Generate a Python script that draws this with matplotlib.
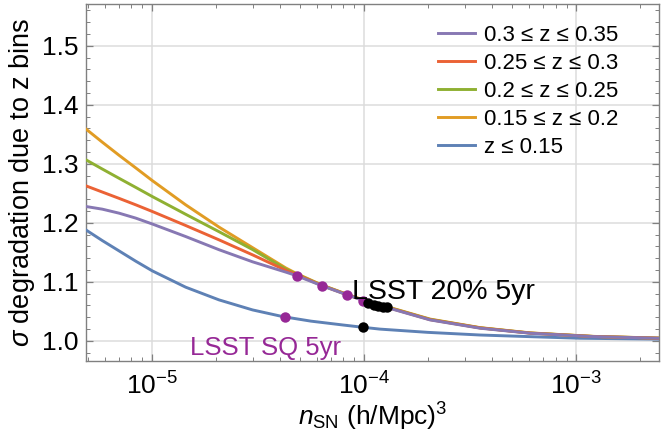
import numpy as np
import matplotlib
matplotlib.use("Agg")
import matplotlib.pyplot as plt
from matplotlib.ticker import LogLocator, MultipleLocator, NullFormatter, FormatStrFormatter

plt.rcParams['font.family'] = ['Liberation Sans', 'DejaVu Sans']
plt.rcParams['mathtext.fontset'] = 'custom'
plt.rcParams['mathtext.rm'] = 'Liberation Sans'
plt.rcParams['mathtext.it'] = 'Liberation Sans:italic'
plt.rcParams['mathtext.sf'] = 'Liberation Sans'

# ---- data (log10 of n_SN) ----
logn = [-5.31, -5.233, -5.154, -5.075, -4.997, -4.84, -4.683, -4.525, -4.368, -4.32, -4.198,
        -4.08, -4.003, -3.877, -3.689, -3.453, -3.217, -2.92, -2.61]
purple_y = [1.2277, 1.2232, 1.2164, 1.208, 1.198, 1.1768, 1.1545, 1.134, 1.1165, 1.1108, 1.0935,
            1.078, 1.0685, 1.055, 1.0356, 1.0215, 1.013, 1.0073, 1.0045]
red_y    = [1.2627, 1.2522, 1.2415, 1.2305, 1.2192, 1.1955, 1.1712, 1.1458, 1.1195, 1.1125, 1.0938,
            1.0783, 1.0688, 1.0555, 1.036, 1.022, 1.0132, 1.0075, 1.0046]
green_y  = [1.3068, 1.2912, 1.2755, 1.26, 1.2445, 1.2145, 1.185, 1.1548, 1.1215, 1.1135, 1.0942,
            1.0787, 1.069, 1.056, 1.0365, 1.0222, 1.0134, 1.0076, 1.0047]
orange_y = [1.359, 1.3367, 1.3145, 1.293, 1.2715, 1.2305, 1.1928, 1.158, 1.1235, 1.1145, 1.0946,
            1.079, 1.0693, 1.0565, 1.037, 1.0225, 1.0136, 1.0077, 1.0048]

logn_blue = [-5.31, -5.233, -5.154, -5.075, -4.997, -4.84, -4.683, -4.525, -4.383, -4.25, -4.1,
             -4.003, -3.925, -3.7, -3.453, -3.2, -2.981, -2.61]
blue_y    = [1.188, 1.17, 1.1525, 1.135, 1.1186, 1.091, 1.0695, 1.0525, 1.0412, 1.0335, 1.027,
             1.023, 1.020, 1.0145, 1.010, 1.007, 1.0045, 1.003]

labels = ["0.3 \u2264 z \u2264 0.35", "0.25 \u2264 z \u2264 0.3", "0.2 \u2264 z \u2264 0.25",
          "0.15 \u2264 z \u2264 0.2", "z \u2264 0.15"]

# survey markers
sq_x = [4.82e-5, 6.34e-5, 8.3e-5, 9.9e-5, 4.24e-5]
sq_y = [1.1105, 1.0925, 1.0775, 1.068, 1.041]
l20_x = [1.05e-4, 1.11e-4, 1.17e-4, 1.23e-4, 1.28e-4, 9.93e-5]
l20_y = [1.064, 1.061, 1.059, 1.058, 1.057, 1.0228]

colors = {"purple": "#8778B3", "red": "#EB6235", "green": "#8FB032",
          "orange": "#E19C24", "blue": "#5E81B5"}
mark_purple = "#962896"

fig = plt.figure(figsize=(6.61, 4.42), dpi=100)
ax = fig.add_axes([0.130, 0.1833, 0.867, 0.808])

x = 10 ** np.array(logn)
xb = 10 ** np.array(logn_blue)
lw = 2.1
lb, = ax.plot(xb, blue_y, color=colors["blue"], lw=lw, zorder=3)
lo, = ax.plot(x, orange_y, color=colors["orange"], lw=lw, zorder=3)
lg, = ax.plot(x, green_y, color=colors["green"], lw=lw, zorder=3)
lr, = ax.plot(x, red_y, color=colors["red"], lw=lw, zorder=3)
lp, = ax.plot(x, purple_y, color=colors["purple"], lw=lw, zorder=3)

ax.plot(sq_x, sq_y, 'o', color=mark_purple, ms=7.5, mec='none', zorder=5)
ax.plot(l20_x, l20_y, 'o', color='black', ms=7.5, mec='none', zorder=6)

fig.text(352 / 661, 1 - 299 / 442, "LSST 20% 5yr", fontsize=20.5, color='black')
fig.text(190 / 661, 1 - 355 / 442, "LSST SQ 5yr", fontsize=18.5, color=mark_purple)

ax.set_xscale('log')
ax.set_xlim(10 ** -5.31, 10 ** -2.61)
ax.set_ylim(0.966, 1.571)

ax.yaxis.set_major_locator(MultipleLocator(0.1))
ax.yaxis.set_minor_locator(MultipleLocator(0.02))
ax.yaxis.set_major_formatter(FormatStrFormatter('%.1f'))
ax.xaxis.set_major_locator(LogLocator(base=10, numticks=10))
ax.xaxis.set_minor_locator(LogLocator(base=10, subs=np.arange(2, 10), numticks=20))
ax.xaxis.set_minor_formatter(NullFormatter())

ax.grid(True, which='major', color='#dcdcdc', lw=1.1, zorder=0)
for s in ax.spines.values():
    s.set_color('#808080')
    s.set_linewidth(1.0)
ax.tick_params(which='both', direction='in', top=True, right=True, color='#808080',
               labelsize=19, labelcolor='black')
ax.tick_params(which='major', length=5, width=0.9)
ax.tick_params(which='minor', length=3, width=0.7)
ax.tick_params(axis='x', pad=8)
ax.tick_params(axis='y', pad=5)

ax.set_ylabel(r"$\sigma$ degradation due to z bins", fontsize=19.5, labelpad=4)
ax.set_xlabel(r"$n_{\rm SN}$ (h/Mpc)$^3$", fontsize=19, labelpad=1)

leg = ax.legend([lp, lr, lg, lo, lb], labels, loc='upper left',
                bbox_to_anchor=(438 / 661, 1 - 25 / 442), bbox_transform=fig.transFigure,
                frameon=False, fontsize=16, handlelength=1.65, handletextpad=0.4,
                labelspacing=0.31, borderpad=0, borderaxespad=0)

fig.savefig("out.png", dpi=100)
